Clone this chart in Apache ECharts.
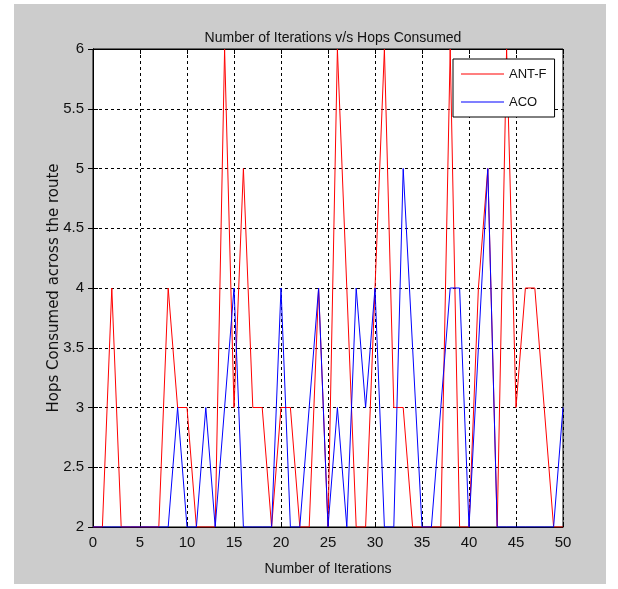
<!DOCTYPE html>
<html>
<head>
<meta charset="utf-8">
<script src="https://cdn.jsdelivr.net/npm/echarts@6/dist/echarts.min.js"></script>
<style>
html,body{margin:0;padding:0;background:#fff;}
#bg{position:absolute;left:14px;top:4px;width:592px;height:580px;background:#cccccc;}
#chart{position:absolute;left:0;top:0;width:618px;height:589px;}
</style>
</head>
<body>
<div id="bg"></div>
<div id="chart"></div>
<script>
var iterations = [0,1,2,3,4,5,6,7,8,9,10,11,12,13,14,15,16,17,18,19,20,21,22,23,24,25,26,27,28,29,30,31,32,33,34,35,36,37,38,39,40,41,42,43,44,45,46,47,48,49,50];
var antF = [2,2,4,2,2,2,2,2,4,3,3,2,2,2,6,3,5,3,3,2,3,3,2,2,4,2,6,4,2,2,4,6,3,3,2,2,2,2,6,2,2,4,5,2,6,3,4,4,3,2,2];
var aco  = [2,2,2,2,2,2,2,2,2,3,2,2,3,2,3,4,2,2,2,2,4,2,2,3,4,2,3,2,4,3,4,2,2,5,3.5,2,2,3,4,4,2,3.5,5,2,2,2,2,2,2,2,3];
var xTicks = [0,5,10,15,20,25,30,35,40,45,50];
var yTicks = [2,2.5,3,3.5,4,4.5,5,5.5,6];
var seriesNames = ['ANT-F','ACO'];
var titleText = 'Number of Iterations v/s Hops Consumed';
var xName = 'Number of Iterations';
var yName = 'Hops Consumed across the route';

function pairs(vals){ return iterations.map(function(x,i){ return [x, vals[i]]; }); }

var font = '"Liberation Sans",Arial,sans-serif';
var chart = echarts.init(document.getElementById('chart'), null, {renderer:'canvas'});
var grid = {left:93, top:49, width:470, height:478, show:true, backgroundColor:'#fff', borderColor:'#000', borderWidth:1};
var split = {show:true, lineStyle:{color:'#000', type:[3,3], width:1}};
var tick = {show:true, inside:true, length:5, lineStyle:{color:'#000'}};
chart.setOption({
  animation:false,
  title:{text:titleText, left:328, top:26, textAlign:'center',
    textStyle:{fontFamily:font, fontSize:14, fontWeight:'normal', color:'#111'}},
  grid:grid,
  legend:{data:seriesNames, orient:'vertical', left:453, top:59,
    backgroundColor:'#fff', borderColor:'#000', borderWidth:1,
    padding:[6,8,6,8], itemGap:10, itemWidth:43, itemHeight:1, icon:'rect',
    textStyle:{fontFamily:font, fontSize:13, lineHeight:18, color:'#111'}},
  xAxis:[{type:'value', min:xTicks[0], max:xTicks[xTicks.length-1], interval:5,
    name:xName, nameLocation:'middle', nameGap:35, nameMoveOverlap:false,
    nameTextStyle:{fontFamily:font, fontSize:14, color:'#111'},
    axisLine:{show:true, lineStyle:{color:'#000'}}, axisTick:tick, splitLine:split,
    axisLabel:{fontFamily:font, fontSize:15, color:'#111', margin:8}},
    {type:'value', position:'top', min:0, max:50, interval:5,
    axisLine:{show:true, lineStyle:{color:'#000'}}, axisTick:tick, axisLabel:{show:false}, splitLine:{show:false}}],
  yAxis:[{type:'value', min:yTicks[0], max:yTicks[yTicks.length-1], interval:0.5,
    name:yName, nameLocation:'middle', nameGap:39, nameMoveOverlap:false,
    nameTextStyle:{fontFamily:'"DejaVu Sans",sans-serif', fontSize:15, color:'#111', verticalAlign:'middle'},
    axisLine:{show:true, lineStyle:{color:'#000'}}, axisTick:tick, splitLine:split,
    axisLabel:{fontFamily:font, fontSize:15, color:'#111', margin:9}},
    {type:'value', position:'right', min:2, max:6, interval:0.5,
    axisLine:{show:true, lineStyle:{color:'#000'}}, axisTick:tick, axisLabel:{show:false}, splitLine:{show:false}}],
  series:[
    {name:seriesNames[0], type:'line', data:pairs(antF), showSymbol:false, symbol:'none',
      lineStyle:{color:'#ff0000', width:1}, itemStyle:{color:'#ff0000'}},
    {name:seriesNames[1], type:'line', data:pairs(aco), showSymbol:false, symbol:'none',
      lineStyle:{color:'#0000ff', width:1}, itemStyle:{color:'#0000ff'}}
  ]
});
</script>
</body>
</html>
